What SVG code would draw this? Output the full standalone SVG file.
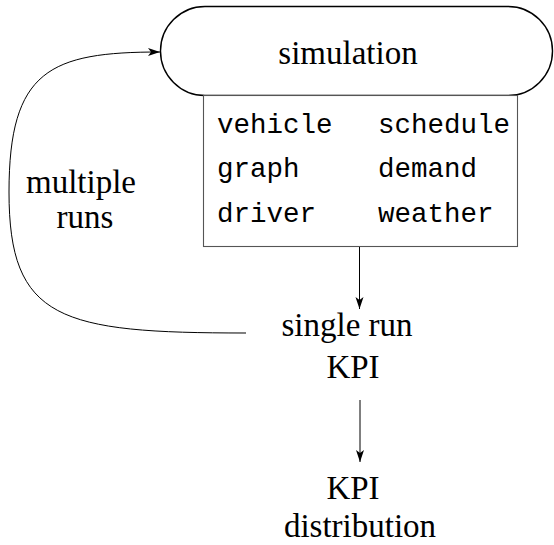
<svg xmlns="http://www.w3.org/2000/svg" width="554" height="545" viewBox="0 0 554 545">
<defs>
<marker id="stealth" markerWidth="14" markerHeight="10" refX="12" refY="5" orient="auto" markerUnits="userSpaceOnUse">
<path d="M0,1 L12,5 L0,9 L3,5 Z" fill="#000"/>
</marker>
</defs>
<style>
.serif{font-family:"Liberation Serif","DejaVu Serif",serif;font-size:33px;fill:#000}
.mono{font-family:"Liberation Mono","DejaVu Sans Mono",monospace;font-size:27.5px;fill:#000}
.edge{fill:none;stroke:#000;stroke-width:1;}
</style>
<rect width="554" height="545" fill="#fff"/>
<g id="simulation">
<rect x="160.5" y="6.5" width="392" height="89" rx="44.5" ry="44.5" fill="#fff" stroke="#000" stroke-width="1.4"/>
<text class="serif" x="348" y="64" text-anchor="middle">simulation</text>
</g>
<g id="components">
<rect x="203.5" y="95.5" width="314" height="151" fill="#fff" stroke="#555" stroke-width="1.1"/>
<text class="mono" x="217" y="133">vehicle</text>
<text class="mono" x="378" y="133">schedule</text>
<text class="mono" x="217" y="177">graph</text>
<text class="mono" x="378" y="177">demand</text>
<text class="mono" x="217" y="222">driver</text>
<text class="mono" x="378" y="222">weather</text>
</g>
<g id="single-run">
<text class="serif" x="347" y="336" text-anchor="middle">single run</text>
<text class="serif" x="353" y="378" text-anchor="middle">KPI</text>
</g>
<g id="kpi-distribution">
<text class="serif" x="353" y="499" text-anchor="middle">KPI</text>
<text class="serif" x="360" y="537" text-anchor="middle">distribution</text>
</g>
<g id="multiple-runs-label">
<text class="serif" x="81" y="193" text-anchor="middle">multiple</text>
<text class="serif" x="85" y="228" text-anchor="middle">runs</text>
</g>
<g id="connectors">
<path class="edge" d="M359.5,247 L359.5,309" marker-end="url(#stealth)"/>
<path class="edge" d="M360,400 L360,462" marker-end="url(#stealth)"/>
<path class="edge" d="M246,333 C60,333 9,320 9,192 C9,70 50,52 160,52" marker-end="url(#stealth)"/>
</g>
</svg>
